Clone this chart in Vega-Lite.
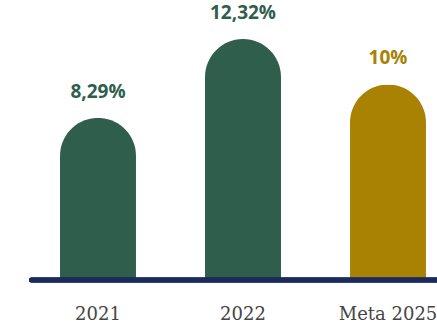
{
  "$schema": "https://vega.github.io/schema/vega-lite/v6.json",
  "width": 437,
  "height": 280,
  "padding": {"top": 0, "left": 0, "right": 0, "bottom": 45},
  "autosize": {"type": "none"},
  "background": "white",
  "config": {"view": {"stroke": null}},
  "data": {
    "values": [
      {"ano": "2021", "valor": 8.29, "rotulo": "8,29%", "tipo": "real"},
      {"ano": "2022", "valor": 12.32, "rotulo": "12,32%", "tipo": "real"},
      {"ano": "Meta 2025", "valor": 10, "rotulo": "10%", "tipo": "meta"}
    ]
  },
  "encoding": {
    "x": {
      "field": "ano",
      "type": "nominal",
      "sort": null,
      "scale": {"range": [25.5, 460.5], "paddingInner": 0.476, "paddingOuter": 0.238},
      "axis": {
        "title": null,
        "domain": false,
        "ticks": false,
        "grid": false,
        "labelAngle": 0,
        "labelFont": "DejaVu Serif",
        "labelFontSize": 18,
        "labelColor": "#454545",
        "labelBaseline": "alphabetic",
        "labelPadding": 39
      }
    }
  },
  "layer": [
    {
      "mark": {"type": "bar", "cornerRadiusTopLeft": 38, "cornerRadiusTopRight": 38},
      "encoding": {
        "y": {"field": "valor", "type": "quantitative", "scale": {"domain": [0, 14.32], "nice": false}, "axis": null},
        "color": {
          "field": "tipo",
          "type": "nominal",
          "scale": {"domain": ["real", "meta"], "range": ["#2f5e4c", "#a98203"]},
          "legend": null
        }
      }
    },
    {
      "mark": {"type": "text", "font": "Open Sans", "fontWeight": "bold", "fontSize": 19, "baseline": "alphabetic", "dy": -20},
      "encoding": {
        "y": {"field": "valor", "type": "quantitative"},
        "text": {"field": "rotulo"},
        "color": {"field": "tipo", "type": "nominal", "legend": null}
      }
    },
    {
      "mark": {"type": "rule", "color": "#1b2a5c", "strokeWidth": 5, "strokeCap": "round"},
      "encoding": {
        "x": {"datum": "2021", "bandPosition": -0.375},
        "x2": {"value": "width"},
        "y": {"datum": 0}
      }
    }
  ]
}
